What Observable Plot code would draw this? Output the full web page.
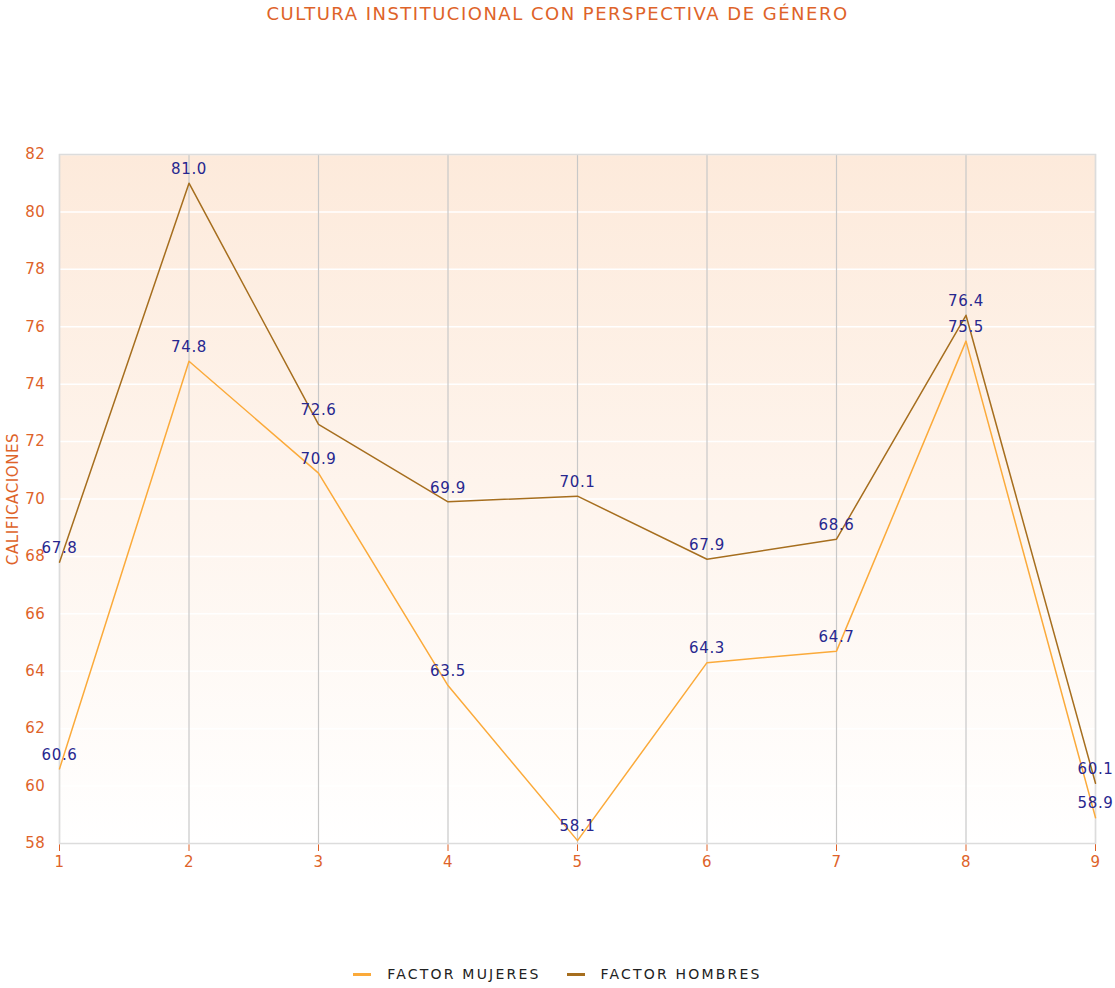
<!DOCTYPE html>
<html>
<head>
<meta charset="utf-8">
<script src="https://cdn.jsdelivr.net/npm/d3@7"></script>
<script src="https://cdn.jsdelivr.net/npm/@observablehq/plot@0.6"></script>
<style>
  html, body { margin: 0; padding: 0; background: #fff; font-family: "DejaVu Sans", sans-serif; }
  #title { height: 40px; text-align: center; color: #de6329; font-size: 18px; line-height: 28px; letter-spacing: 1.5px; }
  #legend { display: flex; justify-content: center; align-items: center; font-size: 14px; color: #222; letter-spacing: 2.2px; }
  .item { display: flex; align-items: center; margin: 0 13px; }
  .sw { width: 18px; height: 3px; margin-right: 16px; }
</style>
</head>
<body>
<div id="title">CULTURA INSTITUCIONAL CON PERSPECTIVA DE GÉNERO</div>
<div id="chart"></div>
<div id="legend"></div>
<script>
const categories = [1, 2, 3, 4, 5, 6, 7, 8, 9];
const mujeres = [60.6, 74.8, 70.9, 63.5, 58.1, 64.3, 64.7, 75.5, 58.9];
const hombres = [67.8, 81.0, 72.6, 69.9, 70.1, 67.9, 68.6, 76.4, 60.1];
const seriesNames = ["FACTOR MUJERES", "FACTOR HOMBRES"];
const seriesColors = ["#fbaa3a", "#a66e1e"];
const yTicks = [58, 60, 62, 64, 66, 68, 70, 72, 74, 76, 78, 80, 82];

const dataM = categories.map((c, i) => ({x: c, y: mujeres[i]}));
const dataH = categories.map((c, i) => ({x: c, y: hombres[i]}));

const axisColor = "#de6329";
const labelColor = "#27278f";

const chart = Plot.plot({
  width: 1115,
  height: 860,
  marginTop: 114,
  marginBottom: 57,
  marginLeft: 59,
  marginRight: 20,
  style: {fontFamily: "DejaVu Sans, sans-serif", fontSize: "15px", background: "transparent", letterSpacing: "0.6px", color: axisColor},
  x: {domain: [1, 9], ticks: categories, tickFormat: "d", tickSize: 8, tickPadding: 5, label: null},
  y: {domain: [58, 82], ticks: yTicks, tickSize: 0, tickPadding: 14,
      label: "CALIFICACIONES", labelAnchor: "center", labelArrow: "none", labelOffset: 52},
  marks: [
    () => {
      const ns = "http://www.w3.org/2000/svg";
      const defs = document.createElementNS(ns, "defs");
      defs.innerHTML = `<linearGradient id="bggrad" x1="0" y1="0" x2="0" y2="1">
        <stop offset="0%" stop-color="#fdeadb"/>
        <stop offset="100%" stop-color="#ffffff"/></linearGradient>`;
      return defs;
    },
    Plot.frame({fill: "url(#bggrad)", stroke: null}),
    Plot.gridY(yTicks, {stroke: "#ffffff", strokeOpacity: 1, strokeWidth: 1.5}),
    Plot.gridX(categories, {stroke: "#c8c8c8", strokeOpacity: 1, strokeWidth: 1.2}),
    Plot.frame({stroke: "#dcdcdc", strokeWidth: 1.5}),
    Plot.lineY(dataM, {x: "x", y: "y", stroke: seriesColors[0], strokeWidth: 1.5}),
    Plot.lineY(dataH, {x: "x", y: "y", stroke: seriesColors[1], strokeWidth: 1.5}),
    Plot.text(dataM, {x: "x", y: "y", text: d => d.y.toFixed(1), dy: -14, fill: labelColor, fontSize: 15}),
    Plot.text(dataH, {x: "x", y: "y", text: d => d.y.toFixed(1), dy: -14, fill: labelColor, fontSize: 15})
  ]
});
document.getElementById("chart").appendChild(chart);

const legend = document.getElementById("legend");
seriesNames.forEach((name, i) => {
  const item = document.createElement("div");
  item.className = "item";
  const sw = document.createElement("span");
  sw.className = "sw";
  sw.style.background = seriesColors[i];
  const t = document.createElement("span");
  t.textContent = name;
  item.appendChild(sw);
  item.appendChild(t);
  legend.appendChild(item);
});
legend.style.marginTop = "66px";
</script>
</body>
</html>
